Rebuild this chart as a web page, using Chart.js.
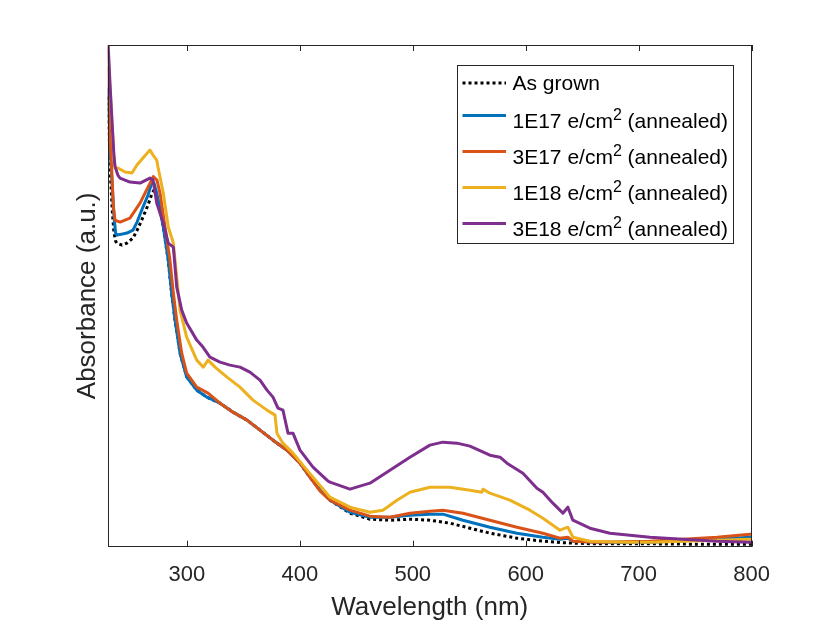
<!DOCTYPE html>
<html><head><meta charset="utf-8">
<script src="https://cdn.jsdelivr.net/npm/chart.js@4.4.1/dist/chart.umd.min.js"></script>
<style>html,body{margin:0;padding:0;background:#fff;}canvas{display:block;}</style>
</head><body>
<canvas id="c" width="830" height="623"></canvas>
<script>
// ---- data (wavelength nm, absorbance a.u.) ----
const xTicks = [300, 400, 500, 600, 700, 800];
const seriesLabels = ['As grown', '1E17 e/cm² (annealed)', '3E17 e/cm² (annealed)', '1E18 e/cm² (annealed)', '3E18 e/cm² (annealed)'];
const seriesColors = ['#000000', '#0072BD', '#D95319', '#EDB120', '#7E2F8E'];

const asGrown = [[230,0.900],[232,0.763],[234,0.673],[235.5,0.629],[237,0.611],[238,0.607],[242.7,0.603],[247,0.607],[252.4,0.617],[257,0.637],[261.2,0.659],[265.7,0.683],[269,0.705],[271,0.713],[273.4,0.701],[276.3,0.675],[279.2,0.639],[283.6,0.573],[286.6,0.507],[289.6,0.453],[294,0.387],[299.9,0.340],[308.8,0.313],[317.9,0.299],[329.4,0.287],[340.9,0.269],[353.3,0.253],[364.8,0.233],[376.3,0.213],[388.7,0.193],[400.2,0.167],[409,0.139],[418,0.113],[426.7,0.093],[444.4,0.067],[462.1,0.055],[479.8,0.053],[497.5,0.055],[515.2,0.053],[532.9,0.047],[550.6,0.037],[568.3,0.027],[592.2,0.017],[615.2,0.011],[632.9,0.008],[656.8,0.006],[700,0.006],[750,0.005],[800,0.005]];

const e17 = [[230,0.917],[232,0.803],[234,0.723],[235.5,0.663],[237,0.627],[238.2,0.623],[243,0.625],[247.1,0.627],[252.4,0.633],[256,0.649],[261.2,0.679],[265.7,0.703],[268.9,0.727],[271,0.727],[273.4,0.707],[279.2,0.639],[283.6,0.573],[286.6,0.507],[289.6,0.453],[294,0.387],[299.9,0.339],[308.8,0.313],[317.9,0.299],[329.4,0.287],[340.9,0.269],[353.3,0.253],[364.8,0.233],[376.3,0.213],[388.7,0.193],[400.2,0.167],[409,0.139],[418,0.113],[426.7,0.093],[444.4,0.069],[462.1,0.059],[479.8,0.059],[497.5,0.063],[515.2,0.065],[526.7,0.065],[544.4,0.053],[568.3,0.039],[592.2,0.027],[615.2,0.019],[630.3,0.015],[637.3,0.017],[641.7,0.011],[665,0.009],[692.2,0.009],[709.9,0.009],[769.3,0.015],[798.5,0.019],[800,0.019]];

const e17b = [[230,0.959],[232,0.830],[233.8,0.740],[235,0.680],[236.5,0.653],[240.9,0.649],[249.7,0.657],[258.6,0.687],[265.7,0.719],[270.4,0.740],[273.6,0.733],[276.3,0.707],[280.7,0.639],[285.1,0.573],[288.1,0.507],[291.1,0.453],[295.5,0.387],[299.9,0.347],[308.8,0.319],[318.8,0.307],[329.4,0.287],[340.9,0.269],[353.3,0.253],[364.8,0.233],[376.3,0.213],[388.7,0.193],[400.2,0.167],[409,0.139],[418,0.111],[426.7,0.093],[444.4,0.073],[462.1,0.061],[479.8,0.059],[497.5,0.067],[515.2,0.071],[526.7,0.073],[544.4,0.067],[568.3,0.053],[592.2,0.039],[615.2,0.027],[630.3,0.017],[637.3,0.019],[641.7,0.011],[663,0.009],[709.9,0.011],[739.1,0.015],[769.3,0.019],[798.5,0.025],[800,0.025]];

const e18 = [[230,1.000],[232,0.920],[234,0.840],[235.5,0.780],[236.5,0.757],[239.1,0.757],[245.3,0.749],[251.5,0.747],[255.9,0.763],[261.2,0.777],[267.4,0.793],[270.1,0.783],[273.4,0.773],[274.5,0.759],[279.2,0.707],[283.6,0.639],[288.1,0.607],[291.1,0.539],[294,0.473],[299.9,0.419],[308.8,0.373],[314.6,0.359],[318.8,0.373],[325,0.359],[335.6,0.339],[347.1,0.319],[358.6,0.293],[371,0.273],[378.1,0.263],[379.8,0.227],[385.1,0.207],[394,0.187],[406.4,0.153],[426.7,0.099],[444.4,0.079],[462.1,0.069],[473.6,0.073],[486,0.093],[497.5,0.109],[515.2,0.119],[532.9,0.119],[550.6,0.113],[561.2,0.109],[562.1,0.115],[568.3,0.107],[586,0.093],[603.7,0.073],[615.2,0.057],[630.3,0.033],[637.3,0.039],[641.7,0.019],[656.8,0.011],[692.2,0.009],[709.9,0.009],[769.3,0.013],[798.5,0.015],[800,0.015]];

const e18b = [[230,1.023],[232,0.927],[234,0.843],[235.5,0.783],[236.5,0.760],[239,0.743],[240.9,0.737],[249.7,0.729],[258.6,0.727],[267.4,0.737],[270.1,0.733],[273.4,0.687],[279.2,0.647],[283.6,0.607],[288.1,0.599],[291.1,0.519],[295.5,0.473],[299.9,0.447],[308.8,0.413],[314.3,0.399],[320.5,0.379],[329.4,0.369],[338.2,0.363],[347.1,0.359],[355.9,0.349],[364.8,0.333],[371,0.313],[376.3,0.299],[380.7,0.277],[385.1,0.273],[389.6,0.227],[394,0.227],[400.2,0.193],[411.7,0.159],[424.1,0.133],[426.7,0.129],[444.4,0.115],[462.1,0.127],[479.8,0.153],[497.5,0.179],[515.2,0.203],[526.7,0.209],[539.1,0.207],[550.6,0.201],[568.3,0.183],[577.2,0.179],[583.4,0.167],[597.5,0.147],[609.9,0.117],[615.2,0.109],[624,0.087],[632.9,0.067],[637.3,0.079],[641.7,0.053],[656.8,0.037],[674.5,0.027],[692.2,0.023],[709.9,0.019],[739.1,0.015],[769.3,0.011],[798.5,0.009],[800,0.009]];

const seriesData = [asGrown, e17, e17b, e18, e18b];

// ---- chart ----
const FONT = "'Liberation Sans', Arial, Helvetica, sans-serif";
const toXY = arr => arr.map(p => ({x: p[0], y: p[1]}));

const framePlugin = {
  id: 'frame',
  afterDatasetsDraw(chart) {
    const {ctx, chartArea: a} = chart;
    const xs = chart.scales.x;
    ctx.save();
    ctx.strokeStyle = '#262626';
    ctx.lineWidth = 1;
    ctx.strokeRect(Math.round(a.left) + 0.5, Math.round(a.top) + 0.5, Math.round(a.right - a.left) - 1, Math.round(a.bottom - a.top) - 1);
    ctx.beginPath();
    xs.ticks.forEach(t => {
      const px = Math.round(xs.getPixelForValue(t.value)) + 0.5;
      ctx.moveTo(px, a.bottom); ctx.lineTo(px, a.bottom - 6);
      ctx.moveTo(px, a.top); ctx.lineTo(px, a.top + 6);
    });
    ctx.stroke();
    ctx.restore();
  }
};

const legendPlugin = {
  id: 'mlegend',
  afterDraw(chart) {
    const {ctx, chartArea: a} = chart;
    const bw = 276, bh = 178;
    const bx = Math.round(a.right - 19 - bw) + 0.5;
    const by = Math.round(a.top + 20) + 0.5;
    ctx.save();
    ctx.fillStyle = '#fff';
    ctx.fillRect(bx, by, bw, bh);
    ctx.strokeStyle = '#262626';
    ctx.lineWidth = 1;
    ctx.strokeRect(bx, by, bw, bh);
    chart.data.datasets.forEach((ds, i) => {
      const ly = by + (i === 0 ? 17.5 : 50 + 36 * (i - 1));
      ctx.beginPath();
      ctx.strokeStyle = ds.borderColor;
      ctx.lineWidth = ds.borderWidth;
      ctx.setLineDash(ds.borderDash || []);
      ctx.moveTo(bx + 5, ly); ctx.lineTo(bx + 48.5, ly);
      ctx.stroke();
      ctx.setLineDash([]);
      const base = ly + (i === 0 ? 6.8 : 12.7);
      let tx = bx + 55;
      ctx.fillStyle = '#000';
      ctx.textBaseline = 'alphabetic';
      ctx.textAlign = 'left';
      const parts = ds.label.split('²');
      ctx.font = '21px ' + FONT;
      ctx.fillText(parts[0], tx, base);
      tx += ctx.measureText(parts[0]).width;
      if (parts.length > 1) {
        ctx.font = '16px ' + FONT;
        ctx.fillText('2', tx, base - 8.5);
        tx += ctx.measureText('2').width;
        ctx.font = '21px ' + FONT;
        ctx.fillText(parts[1], tx, base);
      }
    });
    ctx.restore();
  }
};

const orders = [4, 3, 2, 1, 0];
const datasets = seriesData.map((d, i) => ({
  label: seriesLabels[i],
  data: toXY(d),
  borderColor: seriesColors[i],
  backgroundColor: seriesColors[i],
  borderWidth: 3,
  borderDash: i === 0 ? [3, 3] : [],
  order: orders[i],
  fill: false
}));

new Chart(document.getElementById('c'), {
  type: 'line',
  data: {datasets},
  options: {
    responsive: false,
    animation: false,
    elements: {point: {radius: 0}, line: {tension: 0, borderCapStyle: 'butt', borderJoinStyle: 'round'}},
    plugins: {legend: {display: false}, tooltip: {enabled: false}},
    layout: {padding: {left: 72, right: 78.3, top: 45, bottom: 0}},
    scales: {
      x: {
        type: 'linear', min: 230, max: 800,
        afterBuildTicks: s => { s.ticks = xTicks.map(v => ({value: v})); },
        afterFit: s => { s.height = 76.3; },
        grid: {display: false}, border: {display: false},
        ticks: {padding: 7, color: '#262626', font: {family: FONT, size: 22}, autoSkip: false, maxRotation: 0, callback: v => String(v)},
        title: {display: true, text: 'Wavelength (nm)', color: '#262626', font: {family: FONT, size: 26}, padding: 0}
      },
      y: {
        type: 'linear', min: 0, max: 1.003,
        afterFit: s => { s.width = 35.7; },
        grid: {display: false}, border: {display: false},
        ticks: {display: false},
        title: {display: true, text: 'Absorbance (a.u.)', color: '#262626', font: {family: FONT, size: 26}, padding: 0}
      }
    }
  },
  plugins: [framePlugin, legendPlugin]
});
</script>
</body></html>
